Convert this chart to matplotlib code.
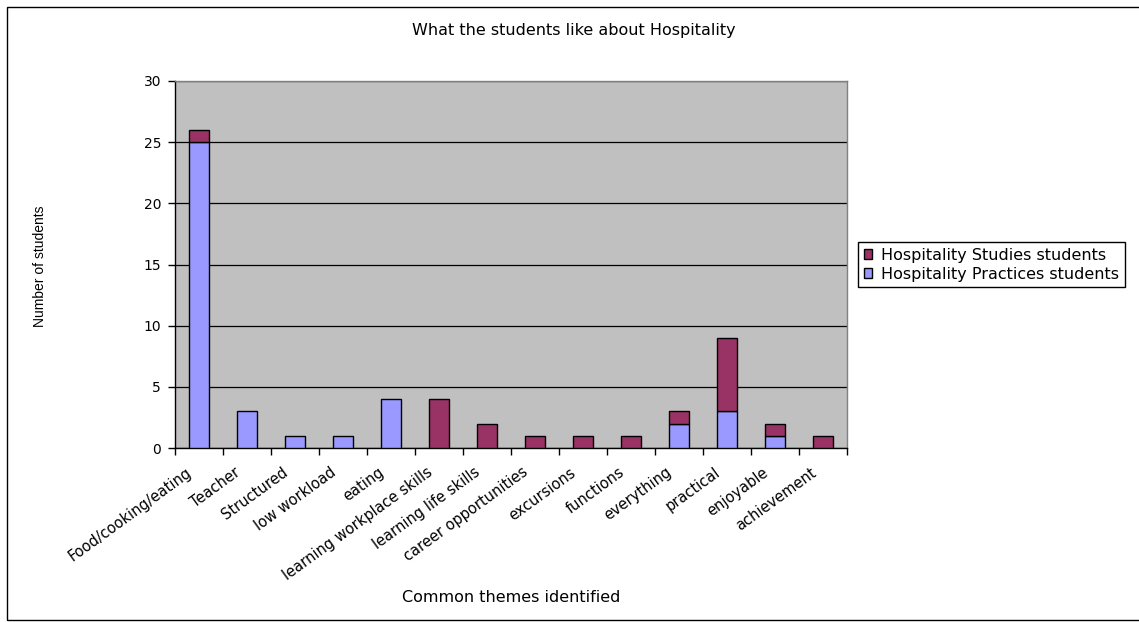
import matplotlib.pyplot as plt
from matplotlib.patches import Rectangle
import numpy as np

plt.rcParams['font.family'] = ['DejaVu Sans']

categories = ["Food/cooking/eating", "Teacher", "Structured", "low workload", "eating",
              "learning workplace skills", "learning life skills", "career opportunities",
              "excursions", "functions", "everything", "practical", "enjoyable", "achievement"]
practices = [25, 3, 1, 1, 4, 0, 0, 0, 0, 0, 2, 3, 1, 0]
studies = [1, 0, 0, 0, 0, 4, 2, 1, 1, 1, 1, 6, 1, 1]

W, H = 1139, 622
fig = plt.figure(figsize=(W / 100, H / 100), dpi=100)

# outer chart-area border (right edge runs off the canvas)
fig.patches.append(Rectangle((7 / W, 2 / H), (W + 10) / W, (H - 9) / H, transform=fig.transFigure,
                             fill=False, edgecolor='black', linewidth=1.0))

ax = fig.add_axes([175 / W, 1 - 448 / H, 672 / W, (448 - 81) / H])
ax.set_facecolor('#C0C0C0')

x = np.arange(len(categories))
bw = 0.40
b1 = ax.bar(x, practices, bw, color='#9999FF', edgecolor='black', linewidth=1.0,
            label='Hospitality Practices students', zorder=3)
b2 = ax.bar(x, studies, bw, bottom=practices, color='#993366', edgecolor='black', linewidth=1.0,
            label='Hospitality Studies students', zorder=3)
# hide outlines of zero-height segments
for bars, vals in ((b1, practices), (b2, studies)):
    for r, v in zip(bars, vals):
        if v == 0:
            r.set_visible(False)

ax.set_xlim(-0.5, len(categories) - 0.5)
ax.set_ylim(0, 30)
ax.set_yticks(range(0, 31, 5))
ax.yaxis.grid(True, color='black', linewidth=0.9, zorder=1)
ax.set_axisbelow(True)

# category boundaries carry the visible ticks; labels sit on invisible minor ticks
ax.set_xticks(np.arange(-0.5, len(categories), 1.0))
ax.set_xticklabels([])
label_offset = 0.27
ax.set_xticks(x - label_offset, minor=True)
ax.set_xticklabels(categories, minor=True, rotation=36, ha='right', va='top',
                   rotation_mode='anchor', fontsize=10.5)
ax.tick_params(axis='x', which='minor', length=0, pad=12)
ax.tick_params(axis='x', which='major', length=5, width=1, color='black', direction='out')
ax.tick_params(axis='y', length=5, width=1, labelsize=10, pad=5)

for s in ('left', 'bottom'):
    ax.spines[s].set_color('black')
    ax.spines[s].set_linewidth(1.0)
for s in ('top', 'right'):
    ax.spines[s].set_color('#808080')
    ax.spines[s].set_linewidth(1.0)

fig.text(574 / W, 1 - 30 / H, 'What the students like about Hospitality',
         ha='center', va='center', fontsize=11.5)
fig.text((175 + 847) / 2 / W, 1 - 597 / H, 'Common themes identified',
         ha='center', va='center', fontsize=11.5)
fig.text(40 / W, 1 - 266 / H, 'Number of students', rotation=90,
         ha='center', va='center', fontsize=10, family='Liberation Sans')

handles = [b2, b1]
leg = fig.legend(handles, [h.get_label() for h in handles], loc='upper left',
                 bbox_to_anchor=(858 / W, 1 - 242 / H), fontsize=11.5, frameon=True,
                 fancybox=False, edgecolor='black', framealpha=1, handlelength=0.55,
                 handleheight=0.55, handletextpad=0.55, borderpad=0.35, labelspacing=0.25,
                 borderaxespad=0)
leg.get_frame().set_linewidth(1.0)

fig.savefig('out.png', dpi=100)
